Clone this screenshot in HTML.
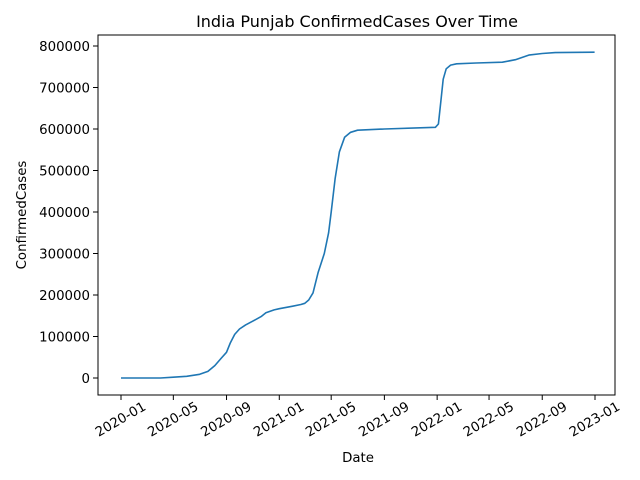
<!DOCTYPE html>
<html><head><meta charset="utf-8"><style>
body{margin:0;background:#fff;}
svg{display:block;font-family:"DejaVu Sans","Liberation Sans",sans-serif;}
</style></head><body>
<svg id="chart" width="640" height="480">
<rect width="640" height="480" fill="#fff"/>
<text x="357" y="27" text-anchor="middle" font-size="16" fill="#000">India Punjab ConfirmedCases Over Time</text>
<g id="yticks"></g>
<g id="xticks"></g>
<path id="line" fill="none" stroke="#1f77b4" stroke-width="1.6" stroke-linejoin="round"/>
<rect x="98" y="35" width="517" height="360" fill="none" stroke="#000" stroke-width="1"/>
<text x="358" y="462" text-anchor="middle" font-size="13.33">Date</text>
<text transform="translate(26,215) rotate(-90)" text-anchor="middle" font-size="13.33">ConfirmedCases</text>
</svg>
<script>
const dates=["2020-01-01","2020-04-01","2020-05-01","2020-06-01","2020-07-01","2020-07-20","2020-08-05","2020-08-20","2020-09-01","2020-09-10","2020-09-20","2020-10-01","2020-10-15","2020-11-01","2020-11-20","2020-12-01","2020-12-20","2021-01-01","2021-02-01","2021-02-20","2021-03-01","2021-03-10","2021-03-20","2021-04-01","2021-04-15","2021-04-25","2021-05-01","2021-05-10","2021-05-20","2021-06-01","2021-06-15","2021-07-01","2021-09-01","2021-12-28","2022-01-04","2022-01-10","2022-01-15","2022-01-22","2022-02-01","2022-02-15","2022-04-01","2022-06-01","2022-07-01","2022-08-01","2022-09-01","2022-10-01","2022-12-31"];
const cases=[0,0,2000,4000,9000,16000,30000,48000,62000,85000,105000,118000,128000,137000,148000,157000,164000,167000,173000,177000,180000,188000,205000,255000,300000,350000,400000,480000,545000,580000,592000,597000,600000,604000,612000,670000,720000,745000,754000,757000,759000,761000,767000,778000,782000,784000,785000];
const yTicks=[0,100000,200000,300000,400000,500000,600000,700000,800000];
const xTickLabels=["2020-01","2020-05","2020-09","2021-01","2021-05","2021-09","2022-01","2022-05","2022-09","2023-01"];
const NS="http://www.w3.org/2000/svg";
const d0=Date.parse("2020-01-01"),d1=Date.parse("2023-01-01");
function xs(s){return 121+(Date.parse(s)-d0)/(d1-d0)*(595-121);}
function ys(v){return 378-v/800000*(378-46);}
const yg=document.getElementById('yticks'),xg=document.getElementById('xticks');
yTicks.forEach(v=>{
 const y=ys(v);
 const l=document.createElementNS(NS,'line');
 l.setAttribute('x1',93);l.setAttribute('x2',98);l.setAttribute('y1',y);l.setAttribute('y2',y);l.setAttribute('stroke','#000');
 
 
 yg.appendChild(l);
 const t=document.createElementNS(NS,'text');
 t.setAttribute('x',90);t.setAttribute('y',y+4.8);t.setAttribute('text-anchor','end');t.setAttribute('font-size','13.33');
 t.textContent=String(v);
 
 
 yg.appendChild(t);
});
xTickLabels.forEach(s=>{
 const x=xs(s+"-01");
 const l=document.createElementNS(NS,'line');
 l.setAttribute('x1',x);l.setAttribute('x2',x);l.setAttribute('y1',395);l.setAttribute('y2',400);l.setAttribute('stroke','#000');
 
 
 xg.appendChild(l);
 const t=document.createElementNS(NS,'text');
 t.setAttribute('transform','translate('+x+',420) rotate(-30)');
 t.setAttribute('text-anchor','middle');t.setAttribute('dominant-baseline','central');t.setAttribute('font-size','13.33');
 t.textContent=s;
 
 
 xg.appendChild(t);
});
let p='';
dates.forEach((d,i)=>{p+=(i?'L':'M')+xs(d).toFixed(1)+','+ys(cases[i]).toFixed(1);});
document.getElementById('line').setAttribute('d',p);
</script>
</body></html>
